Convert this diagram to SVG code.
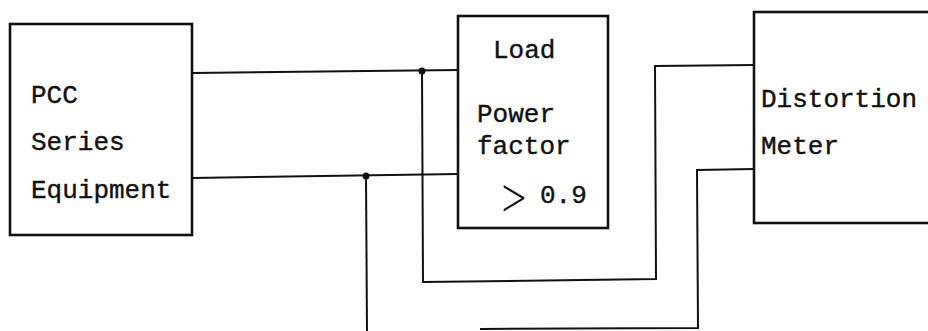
<svg xmlns="http://www.w3.org/2000/svg" width="928" height="331" viewBox="0 0 928 331">
<style>
.box{fill:none;stroke:#111;stroke-width:2.6}
.wire{fill:none;stroke:#111;stroke-width:2;stroke-linejoin:miter}
.t{font-family:"Liberation Mono","Courier New",monospace;font-size:26px;fill:#111;stroke:#111;stroke-width:0.4}
.gt{font-family:Inter,"Liberation Sans",sans-serif;font-weight:200;font-size:50px;fill:#111}
</style>
<rect width="928" height="331" fill="#fff"/>
<g id="connectors">
<polyline class="wire" points="192,73 458,70"/>
<polyline class="wire" points="192,178 458,174"/>
<polyline class="wire" points="422,71 423,282 656,279 655,66 754,65"/>
<polyline class="wire" points="366,176 367,331"/>
<polyline class="wire" points="480,329 698,328 697,170 754,169"/>
<circle cx="422" cy="71" r="3.5" fill="#111"/>
<circle cx="366" cy="176" r="3.5" fill="#111"/>
</g>
<g id="pcc">
<rect class="box" x="10" y="24" width="182" height="211"/>
<text class="t" x="31" y="103">PCC</text>
<text class="t" x="31" y="150">Series</text>
<text class="t" x="31" y="198">Equipment</text>
</g>
<g id="load">
<rect class="box" x="458" y="16" width="150" height="212"/>
<text class="t" x="493" y="58">Load</text>
<text class="t" x="477" y="122">Power</text>
<text class="t" x="477" y="154">factor</text>
<text class="gt" x="497" y="213">&gt;</text>
<text class="t" x="540" y="203">0.9</text>
</g>
<g id="meter">
<rect class="box" x="754" y="12" width="190" height="211"/>
<text class="t" x="761" y="107">Distortion</text>
<text class="t" x="761" y="154">Meter</text>
</g>
</svg>
